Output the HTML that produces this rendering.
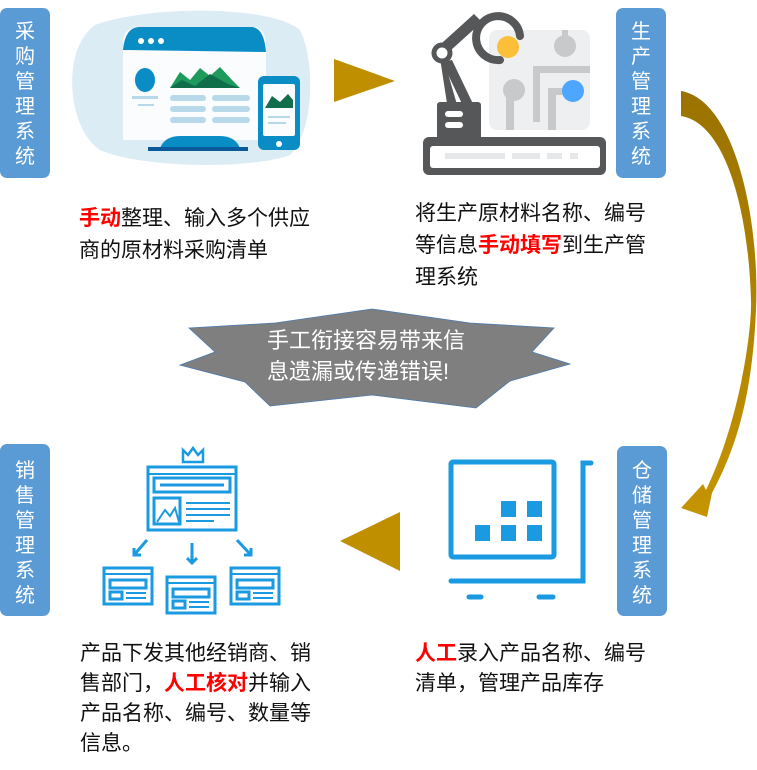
<!DOCTYPE html>
<html><head><meta charset="utf-8"><style>
body{margin:0;width:757px;height:770px;background:#fff;position:relative;overflow:hidden;font-family:"Liberation Sans","Noto Sans CJK SC",sans-serif}
.t{position:absolute;font-size:21px;line-height:32px;color:#111;font-family:"Liberation Sans","Noto Sans CJK SC",sans-serif}
.r{color:#f00;font-weight:bold}
</style></head><body>
<svg width="757" height="770" style="position:absolute;left:0;top:0" font-family="Liberation Sans, Noto Sans CJK SC, sans-serif">
<defs><linearGradient id="g" x1="0" y1="0" x2="0" y2="1"><stop offset="0" stop-color="#9a7200"/><stop offset="1" stop-color="#c59400"/></linearGradient></defs>
<g fill="#5b9bd5">
<rect x="0" y="8" width="50" height="170" rx="7"/>
<rect x="616" y="8" width="50" height="170" rx="7"/>
<rect x="0" y="444" width="50" height="172" rx="7"/>
<rect x="617" y="446" width="50" height="170" rx="7"/>
</g>
<g fill="#fff" font-size="20" text-anchor="middle">
<text x="25" y="38">采</text><text x="25" y="63">购</text><text x="25" y="88">管</text><text x="25" y="113">理</text><text x="25" y="138">系</text><text x="25" y="163">统</text>
<text x="641" y="38">生</text><text x="641" y="63">产</text><text x="641" y="88">管</text><text x="641" y="113">理</text><text x="641" y="138">系</text><text x="641" y="163">统</text>
<text x="25" y="477">销</text><text x="25" y="502">售</text><text x="25" y="527">管</text><text x="25" y="552">理</text><text x="25" y="577">系</text><text x="25" y="602">统</text>
<text x="642" y="477">仓</text><text x="642" y="502">储</text><text x="642" y="527">管</text><text x="642" y="552">理</text><text x="642" y="577">系</text><text x="642" y="602">统</text>
</g>
<path d="M95,25 C150,5 270,5 300,30 C315,60 315,130 290,155 C250,170 140,168 100,150 C68,130 60,50 95,25Z" fill="#dcecf5"/>
<path d="M123,40 Q125,27 140,27 L255,27 Q266,28 266,48 L266,140 L123,140Z" fill="#fafcfd"/>
<path d="M123,50 Q125,27 140,27 L252,27 Q264,28 266,52Z" fill="#0a8cc4"/>
<circle cx="141" cy="41" r="3" fill="#fff"/><circle cx="151" cy="41" r="3" fill="#fff"/><circle cx="161" cy="41" r="3" fill="#fff"/>
<ellipse cx="145" cy="80" rx="10" ry="12" fill="#0a8cc4"/>
<rect x="132" y="96" width="26" height="3" fill="#b8d9ea"/><rect x="138" y="104" width="16" height="2" fill="#b8d9ea"/>
<path d="M170,88 L180,72 L190,80 L200,68 L210,76 L220,67 L232,80 L240,88Z" fill="#1d9a5c"/>
<path d="M170,88 L182,80 L195,86 L210,74 L228,84 L240,88Z" fill="#116e4a"/>
<g fill="#b8d9ea"><rect x="170" y="95" width="36" height="6" rx="3"/><rect x="212" y="95" width="38" height="6" rx="3"/><rect x="170" y="106" width="36" height="6" rx="3"/><rect x="212" y="106" width="38" height="6" rx="3"/><rect x="170" y="117" width="36" height="6" rx="3"/><rect x="212" y="117" width="38" height="6" rx="3"/></g>
<path d="M160,148 Q165,136 180,136 L220,136 Q235,136 240,148Z" fill="#0a8cc4"/>
<rect x="148" y="147" width="100" height="4" fill="#0a5a9a"/>
<rect x="258" y="76" width="42" height="74" rx="6" fill="#0a8cc4"/>
<rect x="263" y="84" width="32" height="52" rx="2" fill="#fafcfd"/>
<path d="M265,108 L272,96 L280,102 L288,94 L293,100 L293,108Z" fill="#116e4a"/>
<rect x="268" y="116" width="22" height="2" fill="#b8d9ea"/><rect x="268" y="122" width="18" height="2" fill="#b8d9ea"/>
<circle cx="279" cy="144" r="3" fill="#fff"/>
<polygon points="334,59 395,81 334,102" fill="#bf8f00"/>
<rect x="489" y="30" width="101" height="100" rx="8" fill="#eeeff1"/>
<g fill="#c8c9cb"><circle cx="565" cy="46" r="11"/><rect x="562" y="30" width="6" height="14"/>
<circle cx="514" cy="90" r="11"/><rect x="506" y="95" width="8" height="35"/><rect x="533" y="66" width="57" height="7"/><rect x="533" y="66" width="7" height="56"/><rect x="548" y="88" width="8" height="42"/><rect x="548" y="88" width="20" height="7"/></g>
<circle cx="508" cy="47" r="11" fill="#fbbf3a"/>
<circle cx="573" cy="91" r="11" fill="#4da6ff"/>
<g fill="#555759"><path d="M432,52 L474,14 L482,22 L440,60Z"/><path d="M442,62 L452,60 L475,108 L465,110Z" /><path d="M440,58 L444,60 L458,108 L448,110Z"/>
<rect x="437" y="102" width="44" height="38" rx="3"/>
<rect x="423" y="137" width="183" height="38" rx="6"/></g>
<path d="M520,36 A22,22 0 1 0 500,60" fill="none" stroke="#555759" stroke-width="8" stroke-linecap="round"/>
<circle cx="442" cy="53" r="8" fill="#fff" stroke="#555759" stroke-width="5"/>
<rect x="445" y="111" width="18" height="6" rx="3" fill="#fff"/><rect x="445" y="122" width="18" height="6" rx="3" fill="#fff"/>
<rect x="430" y="146" width="170" height="22" rx="3" fill="#fff"/>
<g fill="#e6e7e9"><rect x="445" y="153" width="60" height="6"/><rect x="512" y="153" width="28" height="6"/><rect x="547" y="153" width="15" height="6"/><rect x="570" y="153" width="8" height="6"/></g>
<path d="M681,91 C735,100 760,220 756,310 C752,400 735,450 712,493 L707,517 L681,508 L703,484 L706,490 C740,420 752,330 751,300 C748,200 722,122 681,116Z" fill="url(#g)"/>
<polygon points="189,328 275,323 372,309 470,323 554,328 532,352 570,364 510,381 476,408 372,395 270,406 245,382 180,365 215,352" fill="#7f7f7f" stroke="#4a7ab0" stroke-width="0.8"/>
<g fill="#fff" font-size="22" text-anchor="middle"><text x="366" y="348">手工衔接容易带来信</text><text x="358" y="379">息遗漏或传递错误!</text></g>
<polygon points="400,512 340,541 400,571" fill="#bf8f00"/>
<g fill="none" stroke="#1a9ae0" stroke-width="3">
<path d="M183,462 L183,450 L188,455 L193,448 L198,455 L203,450 L203,462Z" stroke-width="2.5"/>
<rect x="148" y="467" width="88" height="63"/><line x1="148" y1="474" x2="236" y2="474" stroke-width="2"/>
<rect x="154" y="478" width="76" height="14"/><line x1="160" y1="485" x2="224" y2="485"/>
<rect x="154" y="498" width="26" height="26"/><path d="M157,522 L165,510 L170,516 L175,508 L179,522" stroke-width="2"/>
<line x1="186" y1="503" x2="230" y2="503" stroke-width="2"/><line x1="186" y1="509" x2="230" y2="509" stroke-width="2"/><line x1="186" y1="515" x2="230" y2="515" stroke-width="2"/><line x1="186" y1="521" x2="214" y2="521" stroke-width="2"/>
<path d="M147,540 L134,555 M134,548 L134,555 L141,555"/>
<path d="M192,543 L192,563 M187,558 L192,563 L197,558"/>
<path d="M237,540 L251,555 M251,548 L251,555 L244,555"/>
<rect x="104" y="568" width="48" height="36"/><rect x="110" y="580" width="36" height="8"/><rect x="110" y="592" width="12" height="7"/>
<rect x="167" y="577" width="48" height="36"/><rect x="173" y="589" width="36" height="8"/><rect x="173" y="601" width="12" height="7"/>
<rect x="231" y="568" width="48" height="36"/><rect x="237" y="580" width="36" height="8"/><rect x="237" y="592" width="12" height="7"/>
</g>
<g stroke="#1a9ae0" stroke-width="2"><line x1="104" y1="574" x2="152" y2="574"/><line x1="167" y1="583" x2="215" y2="583"/><line x1="231" y1="574" x2="279" y2="574"/>
<line x1="126" y1="593" x2="146" y2="593"/><line x1="126" y1="598" x2="146" y2="598"/><line x1="189" y1="602" x2="209" y2="602"/><line x1="189" y1="607" x2="209" y2="607"/><line x1="253" y1="593" x2="273" y2="593"/><line x1="253" y1="598" x2="273" y2="598"/></g>
<g fill="none" stroke="#1a9ae0" stroke-width="5" stroke-linecap="round">
<rect x="451" y="462" width="103" height="95" rx="2"/>
<path d="M591,463 L583,463 L583,581 L451,581"/>
<line x1="469" y1="597" x2="481" y2="597"/><line x1="539" y1="597" x2="553" y2="597"/>
</g>
<g fill="#1a9ae0"><rect x="501" y="501" width="15" height="16"/><rect x="527" y="501" width="15" height="16"/><rect x="475" y="525" width="15" height="16"/><rect x="501" y="525" width="15" height="16"/><rect x="527" y="525" width="15" height="16"/></g>
</svg>
<div class="t" style="left:79px;top:203px"><span class="r">手动</span>整理、输入多个供应<br>商的原材料采购清单</div>
<div class="t" style="left:415px;top:198px">将生产原材料名称、编号<br>等信息<span class="r">手动填写</span>到生产管<br>理系统</div>
<div class="t" style="left:80px;top:639px;line-height:30px">产品下发其他经销商、销<br>售部门，<span class="r">人工核对</span>并输入<br>产品名称、编号、数量等<br>信息。</div>
<div class="t" style="left:415px;top:639px;line-height:30px"><span class="r">人工</span>录入产品名称、编号<br>清单，管理产品库存</div>
</body></html>
